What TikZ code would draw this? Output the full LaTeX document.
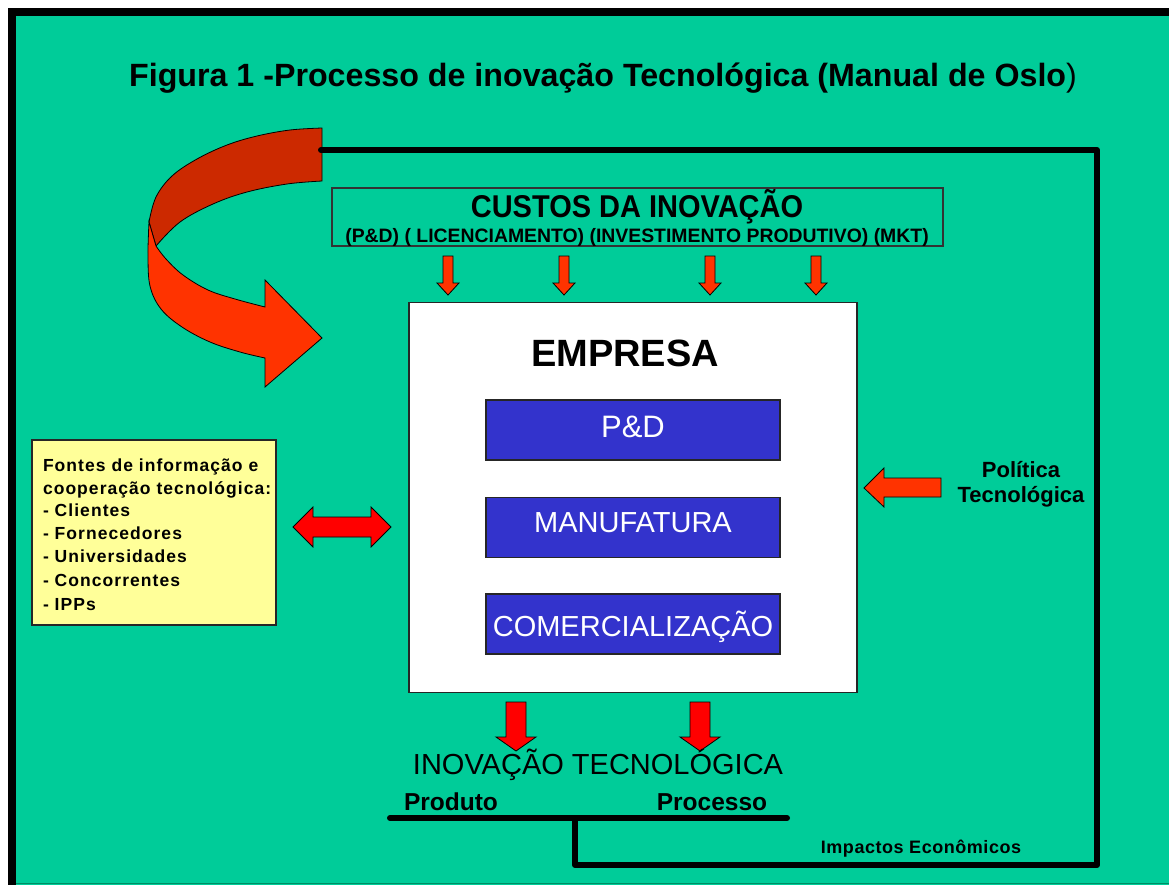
\documentclass[tikz,border=0pt]{standalone}
\usepackage{fontspec}
\setmainfont{Liberation Sans}
\definecolor{bggreen}{HTML}{00CC99}
\definecolor{ribdark}{RGB}{204,41,0}
\definecolor{ribbright}{HTML}{FF3300}
\definecolor{arrred}{HTML}{FF0000}
\definecolor{boxblue}{HTML}{3333CC}
\definecolor{noteyellow}{HTML}{FFFF99}
\definecolor{edgegreen}{RGB}{0,140,100}
\newcommand\fsz[1]{\fontsize{#1}{#1}\selectfont}
% vertical down block arrow: x, ytop, yheadbase, ytip, shafthalf, headhalf, colour
\newcommand\blockdown[7]{%
  \filldraw[fill=#7, draw=black, line width=0.8] (#1-#5,#2) -- (#1+#5,#2) -- (#1+#5,#3) -- (#1+#6,#3) -- (#1,#4) -- (#1-#6,#3) -- (#1-#5,#3) -- cycle;}
\begin{document}
\begin{tikzpicture}[x=1pt,y=-1pt,
  txt/.style={inner sep=0pt, outer sep=0pt, anchor=base},
  txtl/.style={inner sep=0pt, outer sep=0pt, anchor=base west},
  bluebox/.style={draw=black!85, line width=1.2, fill=boxblue, minimum width=294, minimum height=60, inner sep=0pt},
  connector/.style={line width=6, line cap=round, line join=round, draw=black}]
\useasboundingbox (0,0) rectangle (1169,884);
\fill[white] (0,0) rectangle (1169,884);
% frame
\draw[line width=8, fill=bggreen] (12,12) rectangle (1190,905);
\draw[edgegreen, line width=1.5] (16,883.5) -- (1169,883.5);

% title
\node[txt] (title) at (603,86) {\fsz{32.2}\bfseries Figura 1 -Processo de inovação Tecnológica (Manual de Oslo\mdseries)};

% curved ribbon arrow
\filldraw[fill=ribdark, draw=black, line width=0.8]
  plot[smooth, tension=0.6] coordinates {(322,128) (290,130) (257,136) (227,145) (197,159) (172,176) (156,197) (149,222)}
  -- (156,246)
  -- plot[smooth, tension=0.6] coordinates {(156,246) (180,222) (213,204) (247,192) (287,184) (322,181)}
  -- cycle;
\filldraw[fill=ribbright, draw=black, line width=0.8]
  plot[smooth, tension=0.6] coordinates {(149,222) (148,255) (150,286) (161,309) (182,327) (210,342) (240,352) (265,358)}
  -- (265,387) -- (322,338) -- (265,280) -- (265,307)
  -- plot[smooth, tension=0.6] coordinates {(265,307) (235,299) (208,290) (183,275) (166,259) (156,246)}
  -- cycle;

% feedback connector
\coordinate (loopstart) at (321,150);
\coordinate (loopTR) at (1097,150);
\coordinate (loopBR) at (1097,865);
\coordinate (loopBM) at (575,865);
\coordinate (junction) at (575,818);
\coordinate (barL) at (390,818);
\coordinate (barR) at (787,818);
\draw[connector] (loopstart) -- (loopTR) -- (loopBR) -- (loopBM) -- (junction);
\draw[connector] (barL) -- (barR);

% costs box
\node[draw=black!80, line width=1.2, minimum width=611, minimum height=58, inner sep=0pt] (custos) at (637.5,217) {};
\node[txt] (custostitle) at (637,217) {\fsz{31.5}\bfseries\scalebox{0.92}[1]{CUSTOS DA INOVAÇÃO}};
\node[txt] (custossub) at (637,242) {\fsz{19.4}\bfseries (P\&D) ( LICENCIAMENTO) (INVESTIMENTO PRODUTIVO) (MKT)};

% small arrows
\blockdown{448}{256}{283}{295}{5}{11}{ribbright}
\blockdown{564}{256}{283}{295}{5}{11}{ribbright}
\blockdown{710}{256}{283}{295}{5}{11}{ribbright}
\blockdown{816}{256}{283}{295}{5}{11}{ribbright}

% empresa
\node[draw=black!85, line width=1.2, fill=white, minimum width=448, minimum height=390, inner sep=0pt] (empresa) at (633,497.5) {};
\node[txt] (empresatitle) at (625,366) {\fsz{38}\bfseries EMPRESA};
\node[bluebox] (pd) at (633,430) {};
\node[txt, text=white] (pdt) at (633,437) {\fsz{31}P\&D};
\node[bluebox] (manu) at (633,527.5) {};
\node[txt, text=white] (manut) at (633,532) {\fsz{29}MANUFATURA};
\node[bluebox] (com) at (633,624) {};
\node[txt, text=white] (comt) at (633,636) {\fsz{29}COMERCIALIZAÇÃO};

% sources box
\node[draw=black!85, line width=1.2, fill=noteyellow, minimum width=244, minimum height=185, inner sep=0pt] (fontes) at (154,532.5) {};
\begin{scope}[every node/.append style={font=\fsz{17.5}\bfseries\addfontfeature{LetterSpace=6}}]
\node[txtl] (f1) at (43,471) {Fontes de informação e};
\node[txtl] (f2) at (43,494) {cooperação tecnológica:};
\node[txtl] (f3) at (43,516) {- Clientes};
\node[txtl] (f4) at (43,539) {- Fornecedores};
\node[txtl] (f5) at (43,562) {- Universidades};
\node[txtl] (f6) at (43,586) {- Concorrentes};
\node[txtl] (f7) at (43,610) {- IPPs};
\end{scope}

% double arrow
\filldraw[fill=arrred, draw=black, line width=0.8]
  (293,527) -- (313,507) -- (313,517) -- (371,517) -- (371,507) -- (391,527)
  -- (371,547) -- (371,537) -- (313,537) -- (313,547) -- cycle;

% politica arrow
\filldraw[fill=ribbright, draw=black, line width=0.8]
  (864,488) -- (884,468) -- (884,478) -- (941,478) -- (941,497) -- (884,497) -- (884,507) -- cycle;
\node[txt] (pol1) at (1021,477) {\fsz{22}\bfseries Política};
\node[txt] (pol2) at (1021,502) {\fsz{22}\bfseries Tecnológica};

% output arrows
\blockdown{516}{702}{737}{751}{10}{20}{arrred}
\blockdown{700}{702}{737}{751}{10}{20}{arrred}
\node[txt] (inov) at (598,774) {\fsz{29}INOVAÇÃO TECNOLÓGICA};
\node[txt] (prod) at (451,810) {\fsz{24.5}\bfseries Produto};
\node[txt] (proc) at (712,810) {\fsz{24.5}\bfseries Processo};
\node[txt] (imp) at (921,853) {\fsz{18}\bfseries\addfontfeature{LetterSpace=3}Impactos Econômicos};
\end{tikzpicture}
\end{document}
